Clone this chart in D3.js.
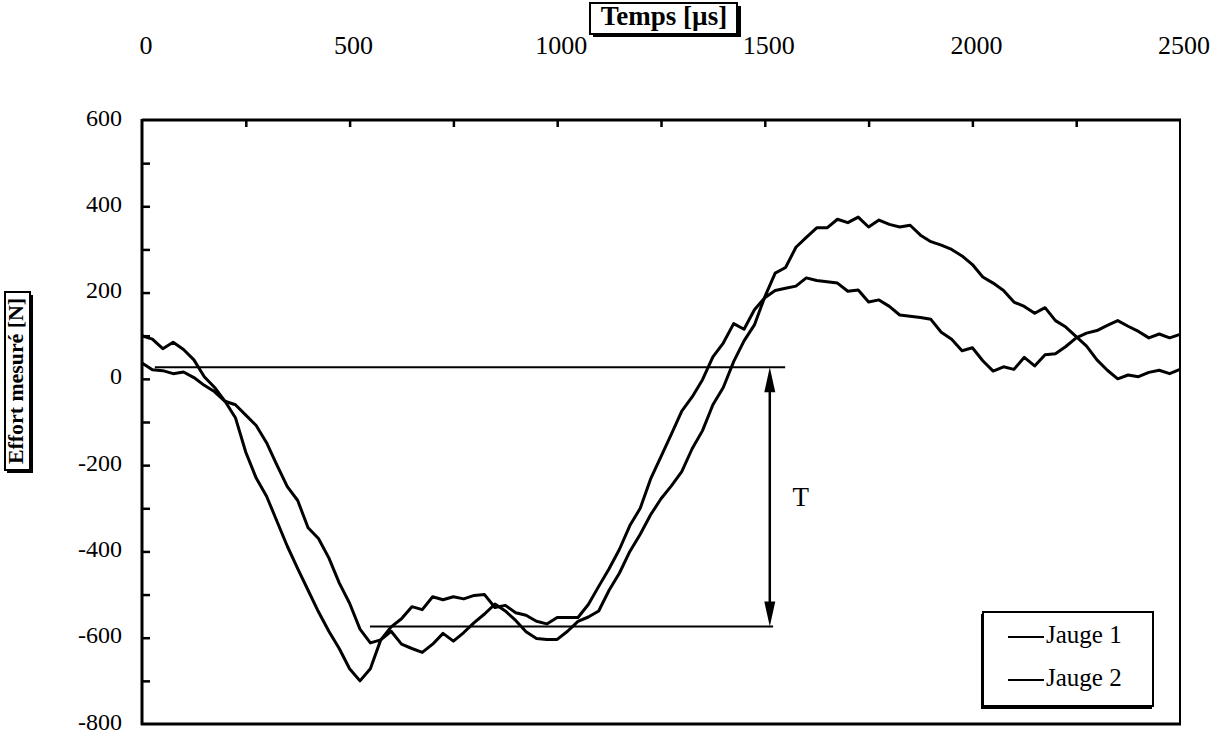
<!DOCTYPE html>
<html><head><meta charset="utf-8">
<script src="https://cdn.jsdelivr.net/npm/d3@7"></script>
<style>body{margin:0;background:#fff}svg{display:block}text{font-family:"Liberation Serif","Times New Roman",serif;fill:#000}</style>
</head><body>
<script>
const times = d3.range(0, 2501, 25);
const jauge1 = [100,92,70,85,68,44,5,-20,-52,-90,-170,-230,-272,-330,-388,-440,-490,-540,-585,-625,-672,-700,-672,-605,-575,-556,-528,-535,-505,-512,-505,-510,-502,-500,-530,-525,-542,-548,-562,-568,-553,-553,-553,-523,-481,-440,-395,-340,-300,-232,-180,-128,-75,-42,-2,51,83,128,115,160,188,205,210,215,234,228,225,222,203,206,178,183,168,148,145,142,138,108,92,65,72,42,18,28,22,50,30,56,58,75,95,106,112,124,135,122,110,95,104,95,103];
const jauge2 = [37,21,19,12,16,3,-15,-30,-52,-60,-84,-108,-148,-200,-250,-282,-345,-370,-415,-473,-520,-580,-612,-605,-585,-615,-625,-634,-615,-590,-608,-588,-565,-545,-522,-538,-560,-586,-602,-604,-604,-585,-562,-552,-538,-490,-450,-400,-360,-315,-278,-248,-215,-162,-120,-60,-20,40,88,125,190,245,258,305,328,350,350,370,362,375,352,368,358,352,356,333,318,310,300,285,265,236,222,205,178,168,152,165,135,120,98,76,44,20,0,9,5,15,20,12,22];
const seriesNames = ["Jauge 1", "Jauge 2"];
const xTickLabels = [0, 500, 1000, 1500, 2000, 2500];
const yTickLabels = [600, 400, 200, 0, -200, -400, -600, -800];
const refTop = {t0: 31, t1: 1549, v: 27};
const refBottom = {t0: 549, t1: 1520, v: -574};
const arrowT = 1512;

const W = 1224, H = 738;
const svg = d3.select("body").append("svg").attr("width", W).attr("height", H);
const x = d3.scaleLinear().domain([0, 2500]).range([142, 1180]);
const y = d3.scaleLinear().domain([-800, 600]).range([724, 120]);

// series lines
const line = d3.line().x((d, i) => x(times[i])).y(d => y(d));
[jauge1, jauge2].forEach(s => {
  svg.append("path").datum(s).attr("d", line).attr("fill", "none")
    .attr("stroke", "#000").attr("stroke-width", 3).attr("stroke-linejoin", "round");
});

// reference lines
[refTop, refBottom].forEach(r => {
  svg.append("line").attr("x1", x(r.t0)).attr("x2", x(r.t1)).attr("y1", y(r.v)).attr("y2", y(r.v))
    .attr("stroke", "#000").attr("stroke-width", 2);
});
// double arrow
const ax = x(arrowT), ay1 = y(refTop.v), ay2 = y(refBottom.v);
svg.append("line").attr("x1", ax).attr("x2", ax).attr("y1", ay1 + 20).attr("y2", ay2 - 20)
  .attr("stroke", "#000").attr("stroke-width", 2.5);
svg.append("path").attr("d", `M${ax},${ay1} L${ax-5.5},${ay1+25} L${ax+5.5},${ay1+25} Z`).attr("fill", "#000");
svg.append("path").attr("d", `M${ax},${ay2} L${ax-5.5},${ay2-25} L${ax+5.5},${ay2-25} Z`).attr("fill", "#000");
svg.append("text").attr("x", ax + 31).attr("y", (ay1 + ay2) / 2 + 3).attr("text-anchor", "middle")
  .attr("dominant-baseline", "middle").attr("font-size", 27).text("T");

// frame
svg.append("line").attr("x1", 142).attr("x2", 1181).attr("y1", 120).attr("y2", 120).attr("stroke", "#000").attr("stroke-width", 3);
svg.append("line").attr("x1", 142).attr("x2", 142).attr("y1", 119).attr("y2", 725).attr("stroke", "#000").attr("stroke-width", 3);
svg.append("line").attr("x1", 141).attr("x2", 1181).attr("y1", 724).attr("y2", 724).attr("stroke", "#000").attr("stroke-width", 3);
svg.append("line").attr("x1", 1180).attr("x2", 1180).attr("y1", 119).attr("y2", 725).attr("stroke", "#000").attr("stroke-width", 2);

// top axis ticks (every 250) with labels every 500
const topAxis = d3.axisTop(x).tickValues(d3.range(250, 2500, 250)).tickSize(-7).tickFormat("");
const gt = svg.append("g").attr("transform", "translate(0,120)").call(topAxis);
gt.select(".domain").remove();
gt.selectAll("line").attr("stroke", "#000").attr("stroke-width", 2.5);
svg.selectAll(".xl").data(xTickLabels).enter().append("text")
  .attr("x", d => x(d) + 4).attr("y", 48).attr("text-anchor", "middle").attr("dominant-baseline", "middle")
  .attr("font-size", 26).text(d => d);

// left axis ticks (every 100) with labels every 200
const leftAxis = d3.axisLeft(y).tickValues(d3.range(-700, 600, 100)).tickSize(-8).tickFormat("");
const gl = svg.append("g").attr("transform", "translate(142,0)").call(leftAxis);
gl.select(".domain").remove();
gl.selectAll("line").attr("stroke", "#000").attr("stroke-width", 2.5);
svg.selectAll(".yl").data(yTickLabels).enter().append("text")
  .attr("x", 122).attr("y", d => y(d)).attr("text-anchor", "end").attr("dominant-baseline", "middle")
  .attr("font-size", 24).text(d => d);

// X title box
svg.append("rect").attr("x", 593).attr("y", 6).attr("width", 148).attr("height", 31).attr("fill", "#000");
svg.append("rect").attr("x", 590).attr("y", 3).attr("width", 147).attr("height", 31).attr("fill", "#fff").attr("stroke", "#000").attr("stroke-width", 2);
svg.append("text").attr("x", 664).attr("y", 19).attr("text-anchor", "middle").attr("dominant-baseline", "middle")
  .attr("font-size", 27).attr("font-weight", "bold").text("Temps [µs]");

// Y title box
svg.append("rect").attr("x", 7).attr("y", 295).attr("width", 26).attr("height", 178).attr("fill", "#000");
svg.append("rect").attr("x", 5).attr("y", 292).attr("width", 25).attr("height", 178).attr("fill", "#fff").attr("stroke", "#000").attr("stroke-width", 2);
svg.append("text").attr("transform", "translate(18,381) rotate(-90)").attr("text-anchor", "middle")
  .attr("dominant-baseline", "middle").attr("font-size", 22).attr("font-weight", "bold")
  .attr("textLength", 166).attr("lengthAdjust", "spacingAndGlyphs").text("Effort mesuré [N]");

// legend
svg.append("rect").attr("x", 981).attr("y", 614).attr("width", 171).attr("height", 95).attr("fill", "#000");
svg.append("rect").attr("x", 983).attr("y", 612).attr("width", 170).attr("height", 94).attr("fill", "#fff").attr("stroke", "#000").attr("stroke-width", 2);
seriesNames.forEach((n, i) => {
  const ly = 637 + i * 43;
  svg.append("line").attr("x1", 1008).attr("x2", 1044).attr("y1", ly).attr("y2", ly).attr("stroke", "#000").attr("stroke-width", 2);
  svg.append("text").attr("x", 1046).attr("y", ly).attr("dominant-baseline", "middle").attr("font-size", 25).text(n);
});
</script>
</body></html>
